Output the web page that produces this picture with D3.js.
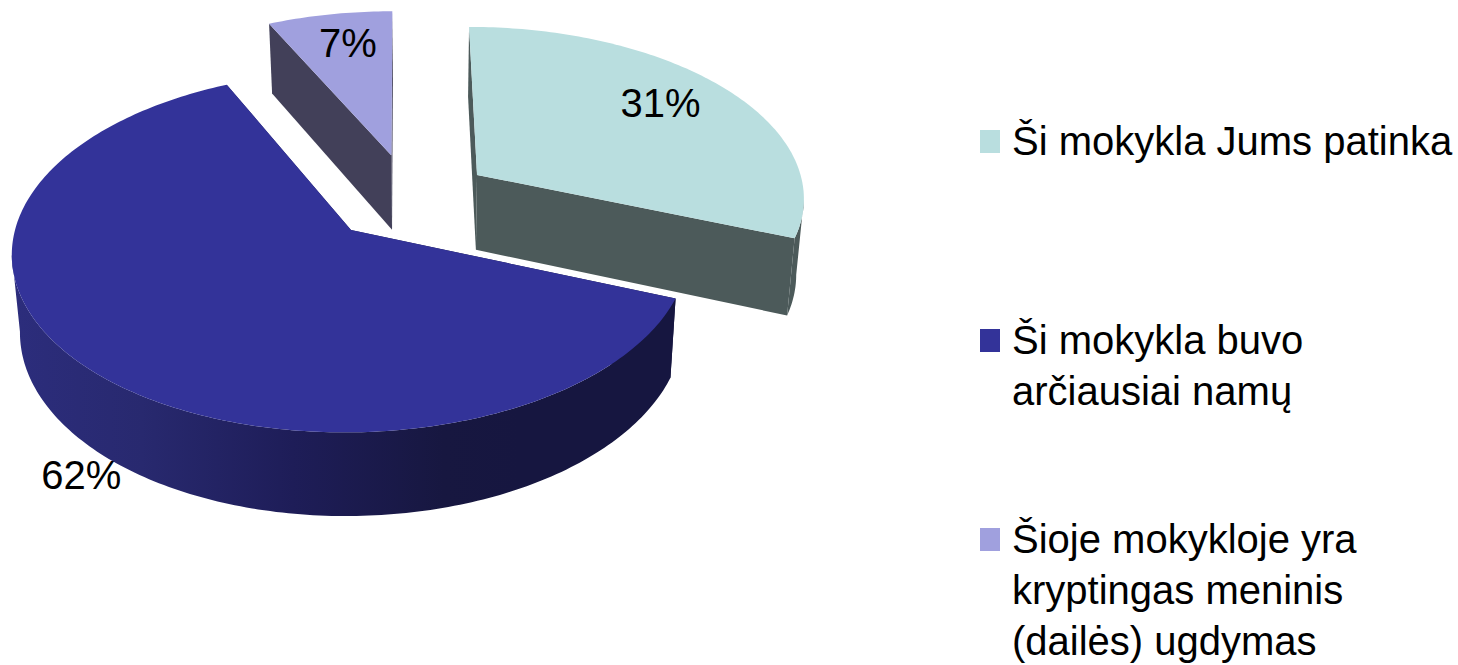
<!DOCTYPE html>
<html>
<head>
<meta charset="utf-8">
<script src="https://cdn.jsdelivr.net/npm/d3@7"></script>
<style>html,body{margin:0;padding:0;background:#fff;overflow:hidden}svg{display:block}text{font-family:"Liberation Sans",Arial,sans-serif;fill:#000}</style>
</head>
<body>
<svg id="c" width="1458" height="665"></svg>
<script>
const categories = ["Ši mokykla Jums patinka", "Ši mokykla buvo arčiausiai namų", "Šioje mokykloje yra kryptingas meninis (dailės) ugdymas"];
const values = [31, 62, 7];
const valueLabels = ["31%", "62%", "7%"];
const legendLines = [["Ši mokykla Jums patinka"], ["Ši mokykla buvo", "arčiausiai namų"], ["Šioje mokykloje yra", "kryptingas meninis", "(dailės) ugdymas"]];
const topColors = ["#b9dedf", "#333399", "#a0a0de"];
const wallColors = ["#4c5a5a", "url(#blueWall)", "#424059"];

// chart geometry
const R = 336, persp = 0.12, tilt = 0.53, vx = 400, vy = 230;
const explode = [[80, 108], [-49, 0], [-9, 148]];
const labelPlace = [{r: 0.72, dx: 3, dy: -7}, {r: 1, dx: -13, dy: 104}, {r: 0.82, dx: 8, dy: 6}];
const legendX = 980, legendTextX = 1012, legendBoxW = 20, legendBoxH = 23, lineH = 51, fontSize = 40;
const legendBase = [155, 354, 553];

const svg = d3.select("#c");
const defs = svg.append("defs");
const grad = defs.append("linearGradient").attr("id", "blueWall").attr("gradientUnits", "userSpaceOnUse")
  .attr("x1", 15).attr("x2", 520).attr("y1", 0).attr("y2", 0);
[[0, "#2c2d7c"], [0.25, "#28296f"], [0.55, "#1e1d58"], [0.85, "#171740"], [1, "#161640"]]
  .forEach(s => grad.append("stop").attr("offset", s[0]).attr("stop-color", s[1]));

function project(wx, wy, down) {
  const s = 1 / (1 + persp * wy / R);
  const X = vx + wx * s, Y = vy - wy * tilt * s;
  if (!down) return [X, Y];
  return [X - 0.02 * (X - 420), Y + 69 + 0.034 * Y];
}
const line = d3.line();
const arcs = d3.pie().sort(null).startAngle(0).endAngle(2 * Math.PI)(values);

function rim(a, ex, down) {
  const n = Math.max(8, Math.ceil((a.endAngle - a.startAngle) * 60));
  return d3.range(n + 1).map(i => {
    const t = a.startAngle + (a.endAngle - a.startAngle) * i / n;
    return project(ex[0] + R * Math.sin(t), ex[1] + R * Math.cos(t), down);
  });
}

// back-to-front: lavender, teal, blue
[2, 0, 1].forEach(i => {
  const a = arcs[i], ex = explode[i], g = svg.append("g");
  const top = rim(a, ex, false), bot = rim(a, ex, true);
  const apexT = project(ex[0], ex[1], false), apexB = project(ex[0], ex[1], true);
  // outer wall: only the rim steps that face the viewer, joined in one path
  const wall = d3.range(top.length - 1)
    .filter(j => top[j + 1][0] < top[j][0])
    .map(j => line([top[j], top[j + 1], bot[j + 1], bot[j]]) + "Z").join("");
  if (wall) g.append("path").attr("d", wall).attr("fill", wallColors[i]);
  // cut walls
  g.append("path").attr("d", line([apexT, top[0], bot[0], apexB]) + "Z").attr("fill", wallColors[i]);
  g.append("path").attr("d", line([apexT, top[top.length - 1], bot[bot.length - 1], apexB]) + "Z").attr("fill", wallColors[i]);
  // top face
  g.append("path").attr("d", line([apexT].concat(top)) + "Z").attr("fill", topColors[i]);
});

// data labels
arcs.forEach((a, i) => {
  const m = (a.startAngle + a.endAngle) / 2, lp = labelPlace[i], ex = explode[i];
  const p = project(ex[0] + lp.r * R * Math.sin(m), ex[1] + lp.r * R * Math.cos(m), false);
  svg.append("text").attr("x", p[0] + lp.dx).attr("y", p[1] + lp.dy + 13)
    .attr("text-anchor", "middle").attr("font-size", fontSize).text(valueLabels[i]);
});

// legend
legendLines.forEach((ls, i) => {
  svg.append("rect").attr("x", legendX).attr("y", legendBase[i] - 25)
    .attr("width", legendBoxW).attr("height", legendBoxH).attr("fill", topColors[i]);
  ls.forEach((t, j) => svg.append("text").attr("x", legendTextX).attr("y", legendBase[i] + j * lineH)
    .attr("font-size", fontSize).text(t));
});
</script>
</body>
</html>
